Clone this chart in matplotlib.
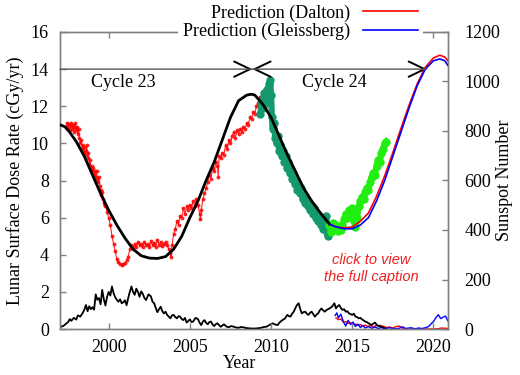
import matplotlib
matplotlib.use('Agg')
import matplotlib.pyplot as plt

plt.rcParams['font.family'] = ['Liberation Serif', 'DejaVu Serif']
plt.rcParams['font.size'] = 13

# ---------------- data ----------------
# measured dose rate, cycle 23 (red points)
red_years = [1997.40, 1997.45, 1997.50, 1997.55, 1997.60, 1997.65, 1997.70, 1997.75, 1997.80, 1997.85,
             1997.90, 1997.95, 1998.00, 1998.05, 1998.10, 1998.15, 1998.20, 1998.25, 1998.30, 1998.35,
             1998.40, 1998.45, 1998.50, 1998.55, 1998.60, 1998.65, 1998.70, 1998.75, 1998.80, 1998.85,
             1998.90, 1998.95, 1999.00, 1999.05, 1999.10, 1999.15, 1999.20, 1999.25, 1999.30, 1999.35,
             1999.40, 1999.45, 1999.50, 1999.55, 1999.60, 1999.65, 1999.70, 1999.75, 1999.80, 1999.90,
             2000.00, 2000.10, 2000.20, 2000.30, 2000.40, 2000.50, 2000.60, 2000.70, 2000.80, 2000.90,
             2001.00, 2001.10, 2001.20, 2001.30, 2001.40, 2001.50, 2001.60, 2001.70, 2001.80, 2001.90,
             2002.00, 2002.10, 2002.20, 2002.30, 2002.40, 2002.50, 2002.60, 2002.70, 2002.80, 2002.90,
             2003.00, 2003.10, 2003.20, 2003.30, 2003.40, 2003.50, 2003.60, 2003.70, 2003.80, 2003.85,
             2003.90, 2004.00, 2004.10, 2004.20, 2004.30, 2004.40, 2004.50, 2004.60, 2004.70, 2004.80,
             2004.90, 2005.00, 2005.10, 2005.20, 2005.30, 2005.40, 2005.50, 2005.60, 2005.65, 2005.70,
             2005.80, 2005.90, 2006.00, 2006.10, 2006.20, 2006.30, 2006.40, 2006.50, 2006.60, 2006.70,
             2006.75, 2006.80, 2006.90, 2007.00, 2007.10, 2007.20, 2007.30, 2007.40, 2007.50, 2007.60,
             2007.70, 2007.80, 2007.90, 2008.00, 2008.10, 2008.20, 2008.30, 2008.40, 2008.50, 2008.60,
             2008.70, 2008.80, 2008.90, 2009.00, 2009.10, 2009.20, 2009.30]
red_vals = [10.9, 11.1, 10.8, 11.05, 10.7, 10.95, 11.1, 10.8, 11.0, 10.6,
            10.9, 11.1, 10.7, 10.9, 10.5, 10.8, 10.3, 10.0, 10.2, 9.7,
            9.9, 9.5, 9.8, 9.4, 9.6, 9.9, 9.2, 9.5, 8.9, 9.1,
            8.6, 8.8, 8.5, 8.7, 8.3, 8.5, 8.2, 8.5, 8.1, 7.9,
            8.2, 7.7, 7.5, 7.2, 7.4, 7.0, 6.8, 6.6, 6.7, 6.3,
            6.0, 5.6, 5.0, 4.6, 4.2, 3.75, 3.6, 3.5, 3.45, 3.5,
            3.55, 3.7, 3.9, 4.3, 4.5, 4.4, 4.6, 4.4, 4.7, 4.5,
            4.6, 4.4, 4.7, 4.5, 4.6, 4.4, 4.75, 4.5, 4.65, 4.4,
            4.8, 4.55, 4.7, 4.45, 4.6, 4.7, 4.5, 4.3, 4.1, 3.9,
            4.5, 5.1, 5.4, 5.8, 5.6, 6.1, 6.0, 6.5, 6.2, 6.6,
            6.4, 6.7, 6.5, 6.9, 6.6, 7.0, 6.7, 6.2, 5.9, 6.4,
            7.0, 7.3, 7.6, 7.9, 8.3, 8.1, 8.7, 8.5, 9.0, 8.8,
            8.2, 9.3, 9.2, 9.5, 9.4, 9.9, 9.7, 10.2, 10.0, 10.4,
            10.6, 10.3, 10.7, 10.5, 10.8, 10.6, 10.9, 10.8, 11.1, 11.0,
            11.4, 11.3, 11.7, 11.6, 12.0, 12.2, 12.5]

# measured dose rate, cycle 24 part 1 (dark green)
teal_years = [2009.35, 2009.42, 2009.50, 2009.57, 2009.65, 2009.72, 2009.80, 2009.87, 2009.95, 2010.00,
              2010.05, 2010.10, 2010.18, 2010.26, 2010.34, 2010.42, 2010.50, 2010.58, 2010.66, 2010.74,
              2010.82, 2010.90, 2010.98, 2011.06, 2011.14, 2011.22, 2011.30, 2011.38, 2011.46, 2011.54,
              2011.62, 2011.70, 2011.78, 2011.86, 2011.94, 2012.02, 2012.10, 2012.18, 2012.26, 2012.34,
              2012.42, 2012.50, 2012.58, 2012.66, 2012.74, 2012.82, 2012.90, 2012.98, 2013.06, 2013.14,
              2013.22, 2013.30, 2013.38, 2013.45, 2013.50, 2013.55]
teal_vals = [11.6, 12.3, 11.9, 12.7, 12.2, 12.9, 12.6, 13.2, 13.4, 12.6,
             11.4, 10.8, 11.1, 10.3, 10.0, 10.4, 9.6, 9.9, 9.3, 9.6,
             9.0, 9.3, 8.7, 9.0, 8.4, 8.6, 8.1, 8.4, 7.8, 8.0,
             7.5, 7.7, 7.3, 7.6, 7.0, 7.2, 6.8, 7.0, 6.6, 6.8,
             6.4, 6.6, 6.2, 6.5, 6.0, 6.2, 5.8, 6.0, 5.6, 5.8,
             5.4, 5.9, 6.1, 5.2, 5.0, 5.4]

# measured dose rate, cycle 24 part 2 (light green)
lime_years = [2013.60, 2013.70, 2013.80, 2013.90, 2014.00, 2014.10, 2014.20, 2014.30, 2014.40, 2014.50,
              2014.60, 2014.70, 2014.80, 2014.90, 2015.00, 2015.10, 2015.20, 2015.30, 2015.40, 2015.50,
              2015.60, 2015.70, 2015.80, 2015.90, 2016.00, 2016.10, 2016.20, 2016.30, 2016.40, 2016.50,
              2016.60, 2016.70, 2016.80, 2016.90, 2017.00, 2017.10]
lime_vals = [5.6, 5.2, 5.7, 5.4, 5.6, 5.3, 5.5, 5.35, 5.6, 5.9,
             6.2, 6.0, 6.4, 6.1, 6.5, 5.8, 5.5, 6.0, 6.6, 6.9,
             7.1, 7.0, 7.4, 7.6, 7.5, 7.9, 8.2, 8.4, 8.3, 8.8,
             9.1, 9.0, 9.5, 9.7, 10.0, 10.1]

# model dose rate (black curve)
model_years = [1997.0, 1997.3, 1997.6, 1998.0, 1998.5, 1999.0, 1999.5, 2000.0, 2000.5, 2001.0,
               2001.5, 2002.0, 2002.5, 2003.0, 2003.5, 2004.0, 2004.5, 2005.0, 2005.5, 2006.0,
               2006.5, 2007.0, 2007.5, 2008.0, 2008.5, 2008.8, 2009.0, 2009.5, 2010.0, 2010.5,
               2011.0, 2011.5, 2012.0, 2012.5, 2013.0, 2013.6]
model_vals = [11.0, 10.9, 10.6, 10.1, 9.3, 8.3, 7.3, 6.4, 5.6, 4.9,
              4.3, 3.95, 3.82, 3.8, 3.9, 4.3, 5.0, 6.0, 6.9, 8.0,
              9.0, 10.2, 11.4, 12.3, 12.6, 12.65, 12.6, 12.1, 11.4, 10.4,
              9.4, 8.5, 7.6, 6.9, 6.3, 5.65]

# predictions
pred_years = [2013.6, 2014.0, 2014.5, 2015.0, 2015.5, 2016.0, 2016.5, 2017.0, 2017.5, 2018.0,
              2018.5, 2019.0, 2019.5, 2020.0, 2020.4, 2020.7, 2020.9]
dalton_vals = [5.65, 5.5, 5.45, 5.5, 5.8, 6.25, 7.15, 8.25, 9.5, 10.8,
               12.05, 13.2, 14.1, 14.6, 14.75, 14.65, 14.45]
gleiss_vals = [5.65, 5.5, 5.4, 5.4, 5.6, 6.0, 6.9, 8.0, 9.3, 10.6,
               11.9, 13.1, 14.0, 14.45, 14.55, 14.45, 14.2]

# sunspot numbers (right axis)
ssn_years = [1997.0, 1997.2, 1997.35, 1997.5, 1997.6, 1997.7, 1997.85, 1998.0, 1998.1, 1998.25,
             1998.4, 1998.5, 1998.6, 1998.7, 1998.8, 1998.9, 1999.0, 1999.1, 1999.2, 1999.3,
             1999.4, 1999.5, 1999.6, 1999.7, 1999.8, 1999.9, 2000.0, 2000.1, 2000.2, 2000.3,
             2000.4, 2000.5, 2000.6, 2000.7, 2000.8, 2000.9, 2001.0, 2001.1, 2001.2, 2001.3,
             2001.4, 2001.5, 2001.6, 2001.7, 2001.8, 2001.9, 2002.0, 2002.1, 2002.2, 2002.3,
             2002.45, 2002.6, 2002.7, 2002.8, 2002.9, 2003.0, 2003.1, 2003.2, 2003.3, 2003.4,
             2003.5, 2003.6, 2003.7, 2003.8, 2003.9, 2004.0, 2004.1, 2004.2, 2004.3, 2004.4,
             2004.5, 2004.6, 2004.7, 2004.8, 2004.9, 2005.0, 2005.1, 2005.2, 2005.35, 2005.5,
             2005.6, 2005.7, 2005.8, 2005.9, 2006.0, 2006.1, 2006.2, 2006.3, 2006.4, 2006.5,
             2006.6, 2006.7, 2006.8, 2006.9, 2007.0, 2007.1, 2007.25, 2007.4, 2007.55, 2007.7,
             2007.85, 2008.0, 2008.15, 2008.3, 2008.45, 2008.6, 2008.8, 2009.0, 2009.2, 2009.4,
             2009.55, 2009.7, 2009.85, 2010.0, 2010.1, 2010.25, 2010.4, 2010.55, 2010.7, 2010.85,
             2011.0, 2011.1, 2011.2, 2011.3, 2011.4, 2011.5, 2011.6, 2011.7, 2011.8, 2011.9,
             2012.0, 2012.1, 2012.2, 2012.3, 2012.4, 2012.5, 2012.6, 2012.7, 2012.8, 2012.9,
             2013.0, 2013.1, 2013.2, 2013.3, 2013.45, 2013.6, 2013.75, 2013.9, 2014.0, 2014.1,
             2014.2, 2014.3, 2014.4, 2014.5, 2014.6, 2014.7, 2014.8, 2014.9, 2015.0, 2015.1,
             2015.2, 2015.3, 2015.4, 2015.5, 2015.6, 2015.7, 2015.8, 2015.9, 2016.0, 2016.1,
             2016.2, 2016.3, 2016.4, 2016.5, 2016.6, 2016.7, 2016.8, 2016.9, 2017.0]
ssn_vals = [8, 12, 20, 28, 40, 33, 45, 38, 55, 50,
            65, 78, 97, 72, 92, 80, 88, 78, 140, 118,
            125, 100, 158, 120, 95, 130, 150, 135, 172, 145,
            128, 118, 110, 120, 104, 108, 116, 96, 125, 150,
            172, 150, 138, 163, 150, 130, 152, 142, 125, 117,
            140, 132, 110, 104, 85, 68, 80, 90, 72, 63,
            70, 57, 50, 43, 55, 57, 48, 43, 52, 50,
            40, 36, 45, 26, 32, 39, 28, 30, 45, 40,
            25, 16, 30, 36, 25, 19, 28, 30, 18, 12,
            20, 23, 15, 9, 14, 19, 10, 7, 12, 9,
            6, 5, 8, 7, 4, 3, 2, 2, 3, 5,
            8, 9, 14, 20, 23, 18, 16, 28, 36, 42,
            57, 52, 50, 62, 70, 85, 97, 104, 80, 63,
            68, 70, 62, 57, 65, 70, 60, 50, 58, 63,
            75, 83, 76, 70, 78, 83, 90, 104, 83, 92,
            97, 85, 77, 80, 70, 72, 63, 60, 57, 62,
            50, 48, 43, 45, 39, 35, 30, 28, 23, 20,
            16, 22, 26, 18, 12, 14, 9, 6, 3]

ssn_gleiss_years = [2013.95, 2014.05, 2014.15, 2014.3, 2014.45, 2014.6, 2014.75, 2014.9, 2015.05, 2015.2,
                    2015.35, 2015.5, 2015.65, 2015.8, 2016.0, 2016.2, 2016.4, 2016.6, 2016.8, 2017.0,
                    2017.3, 2017.6, 2017.9, 2018.1, 2018.3, 2018.6, 2018.9, 2019.1, 2019.3, 2019.5,
                    2019.7, 2019.85, 2020.0, 2020.15, 2020.3, 2020.45, 2020.6, 2020.75, 2020.9]
ssn_gleiss_vals = [55, 65, 45, 60, 30, 12, 35, 18, 28, 10,
                   20, 6, 14, 4, 10, 3, 8, 2, 6, 1,
                   5, 1, 3, 9, 2, 5, 1, 4, 2, 5,
                   10, 20, 30, 45, 58, 42, 48, 52, 32]

ssn_dalton_years = [2014.0, 2014.15, 2014.3, 2014.45, 2014.6, 2014.75, 2014.9, 2015.05, 2015.2, 2015.35,
                    2015.5, 2015.65, 2015.8, 2015.95, 2016.1, 2016.3, 2016.5, 2016.7, 2016.9, 2017.1,
                    2017.3, 2017.5, 2017.7, 2017.9, 2018.1, 2018.3, 2018.6, 2019.0, 2019.5, 2020.0,
                    2020.3, 2020.5, 2020.7, 2020.9]
ssn_dalton_vals = [45, 38, 40, 28, 30, 22, 26, 18, 20, 15,
                   18, 12, 16, 10, 14, 8, 15, 10, 12, 6,
                   8, 4, 10, 12, 3, 1, 0, 0, 0, 0,
                   1, 4, 3, 2]

cycle_edges = [1997.0, 2008.85, 2019.6]
cycle_labels = ['Cycle 23', 'Cycle 24']
arrow_level = 14

xticks = [2000, 2005, 2010, 2015, 2020]
yticks = [0, 2, 4, 6, 8, 10, 12, 14, 16]
y2ticks = [0, 200, 400, 600, 800, 1000, 1200]

# ---------------- figure ----------------
fig = plt.figure(figsize=(5.2, 3.75), dpi=100)
ax = fig.add_axes([60 / 520, 46 / 375, 388 / 520, 297 / 375])
ax2 = ax.twinx()
ax.set_zorder(2)
ax.patch.set_visible(False)

gray = '#808080'
for a in (ax, ax2):
    for s in a.spines.values():
        s.set_color(gray)
        s.set_linewidth(1.0)

ax.set_xlim(1997.0, 2020.9)
ax.set_ylim(0, 16)
ax2.set_ylim(0, 1200)
ax.set_xticks(xticks)
ax.set_yticks(yticks)
ax2.set_yticks(y2ticks)
ax.tick_params(axis='both', direction='in', length=4, color=gray, width=1, top=True, right=False, pad=8)
ax.tick_params(axis='x', pad=7)
ax2.tick_params(axis='y', direction='in', length=4, color=gray, width=1, pad=12)

# sunspots
ax2.plot(ssn_years, ssn_vals, color='black', lw=1.3, zorder=3)
ax2.plot(ssn_dalton_years, ssn_dalton_vals, color='#ff0000', lw=1.0, zorder=2)
ax2.plot(ssn_gleiss_years, ssn_gleiss_vals, color='#0000ff', lw=1.0, zorder=2)

# dose rates
ax.plot(red_years, red_vals, color='#ff0000', lw=0.8, marker='o', ms=2.8, mew=0, alpha=0.85, zorder=3)
ax.plot(teal_years, teal_vals, color='#14996f', lw=4.5, marker='o', ms=6, mew=0, zorder=3)
ax.plot(lime_years, lime_vals, color='#22ee11', lw=4.5, marker='o', ms=6, mew=0, zorder=3)
ax.plot(model_years, model_vals, color='black', lw=2.0, zorder=4)
l_dalton, = ax.plot(pred_years, dalton_vals, color='#ff0000', lw=1.2, zorder=4)
l_gleiss, = ax.plot(pred_years, gleiss_vals, color='#0000ff', lw=1.2, zorder=5)

# cycle arrows
for i in range(2):
    ax.annotate('', xy=(cycle_edges[i + 1], arrow_level), xytext=(cycle_edges[i], arrow_level),
                arrowprops=dict(arrowstyle='-', color='#555555', lw=1.0, shrinkA=0, shrinkB=0), zorder=6)
head = dict(arrowstyle='->,head_length=1.15,head_width=0.55', color='black', lw=1.4,
            shrinkA=0, shrinkB=0, mutation_scale=10)
ax.annotate('', xy=(cycle_edges[1], arrow_level), xytext=(cycle_edges[1] - 0.3, arrow_level), arrowprops=head)
ax.annotate('', xy=(cycle_edges[1], arrow_level), xytext=(cycle_edges[1] + 0.3, arrow_level), arrowprops=head)
ax.annotate('', xy=(cycle_edges[2], arrow_level), xytext=(cycle_edges[2] - 0.3, arrow_level), arrowprops=head)

ax.text(2000.9, 13.3, cycle_labels[0], ha='center', va='center', fontsize=13)
ax.text(2013.9, 13.3, cycle_labels[1], ha='center', va='center', fontsize=13)

ax.text(2016.2, 3.25, 'click to view\nthe full caption', ha='center', va='center',
        fontsize=10.5, style='italic', family=['Liberation Sans', 'DejaVu Sans'], color='#ee2020',
        linespacing=1.25, zorder=7)

ax.set_xlabel('Year')
ax.set_ylabel('Lunar Surface Dose Rate (cGy/yr)')
ax2.set_ylabel('Sunspot Number')
ax.xaxis.set_label_coords((240 - 60) / 388, -(355 - 329) / 297)
ax.yaxis.set_label_coords(-(60 - 24) / 388, 0.5)
ax2.yaxis.set_label_coords((496 - 60) / 388, 0.5)

leg = fig.legend([l_dalton, l_gleiss], ['Prediction (Dalton)', 'Prediction (Gleissberg)'],
                 loc='upper right', bbox_to_anchor=(423 / 520, 1.0), markerfirst=False,
                 handlelength=3.1, handletextpad=0.7, labelspacing=0.05, borderpad=0.25,
                 borderaxespad=0, frameon=True, fancybox=False, framealpha=1,
                 facecolor='white', edgecolor='none', fontsize=13)
leg.set_zorder(10)

fig.savefig('out.png', dpi=100)
